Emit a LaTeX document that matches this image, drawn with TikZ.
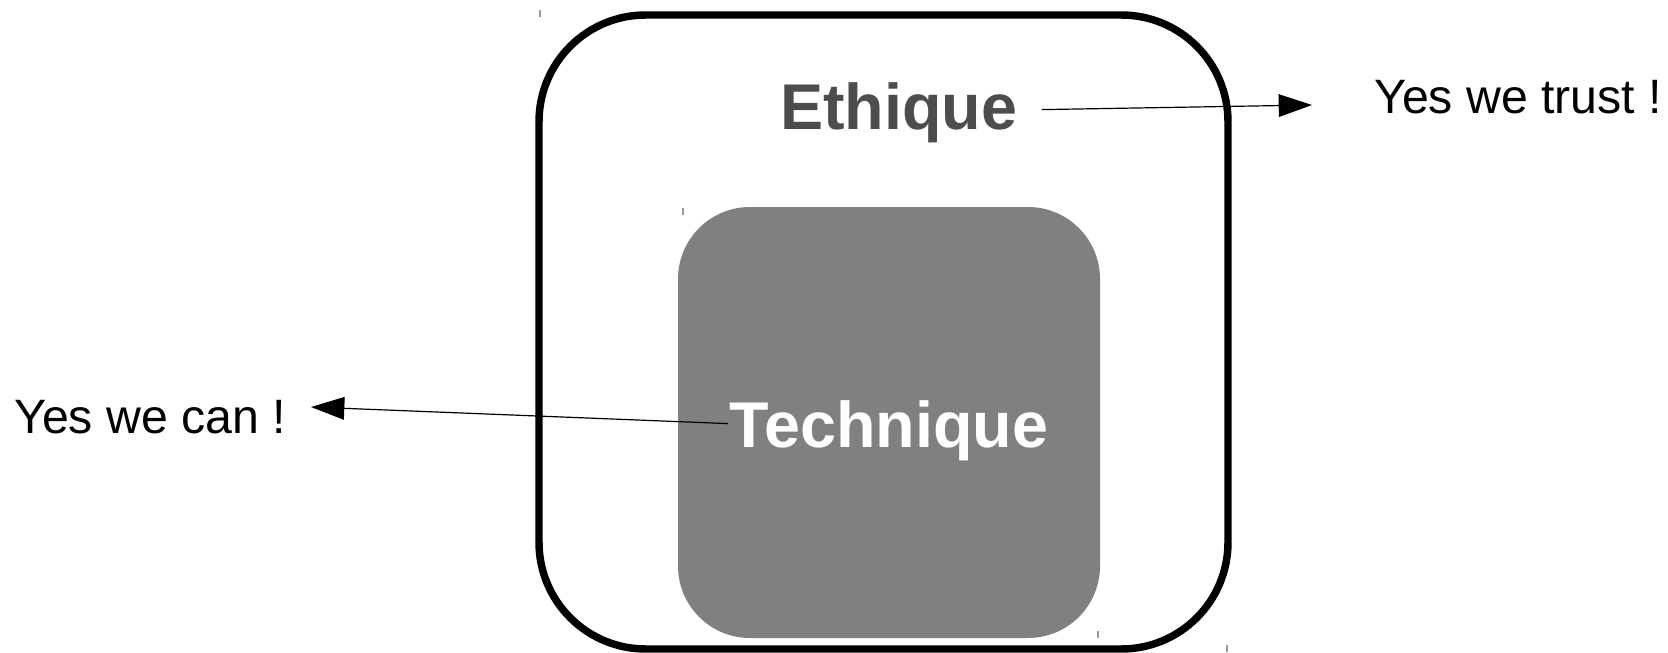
\documentclass[tikz,border=0pt]{standalone}
\usepackage{fontspec}
\setmainfont{Liberation Sans}
\usetikzlibrary{arrows.meta}
\definecolor{ethgray}{HTML}{4D4D4D}
\definecolor{techgray}{HTML}{808080}
\definecolor{tickgray}{HTML}{999999}
\tikzset{
  outerbox/.style={draw=black, line width=5.6pt, rounded corners=80pt},
  innerbox/.style={fill=techgray, draw=none, rounded corners=54pt},
  bigword/.style={font=\fontsize{48.5}{58}\selectfont\bfseries, inner sep=0pt},
  slogan/.style={font=\fontsize{36.2}{43}\selectfont, inner sep=0pt, text=black},
  link/.style={draw=black, line width=0.9pt, -{Triangle[length=25pt, width=17pt]}},
  tick/.style={draw=tickgray, line width=0.9pt}
}
\begin{document}
\begin{tikzpicture}[x=0.75pt, y=-0.75pt]
\useasboundingbox (0,0) rectangle (1668,653);
\fill[white] (0,0) rectangle (1668,653);
% outer and inner boxes
\path[outerbox] (539,15) rectangle (1228,649);
\path[innerbox] (678,207) rectangle (1100,638);
% small ticks
\draw[tick] (540,10) -- (540,17);
\draw[tick] (1227,645) -- (1227,652);
\draw[tick] (683,208) -- (683,215);
\draw[tick] (1098,631) -- (1098,638);
% texts
\node[bigword, text=ethgray, anchor=base west] (eth) at (780,129) {Ethique};
\node[bigword, text=white, anchor=base] (tech) at (889,447) {Technique};
\node[slogan, anchor=base west] (trust) at (1374,113) {Yes we trust !};
\node[slogan, anchor=base west] (can) at (14,433) {Yes we can !};
% arrow tips
\coordinate (tipT) at (1312,105);
\coordinate (tipC) at (311,407);
\draw[link] ([xshift=18pt, yshift=2pt]eth.east) -- (tipT);
\draw[link] ([xshift=-1pt, yshift=5pt]tech.west) -- (tipC);
\end{tikzpicture}
\end{document}
